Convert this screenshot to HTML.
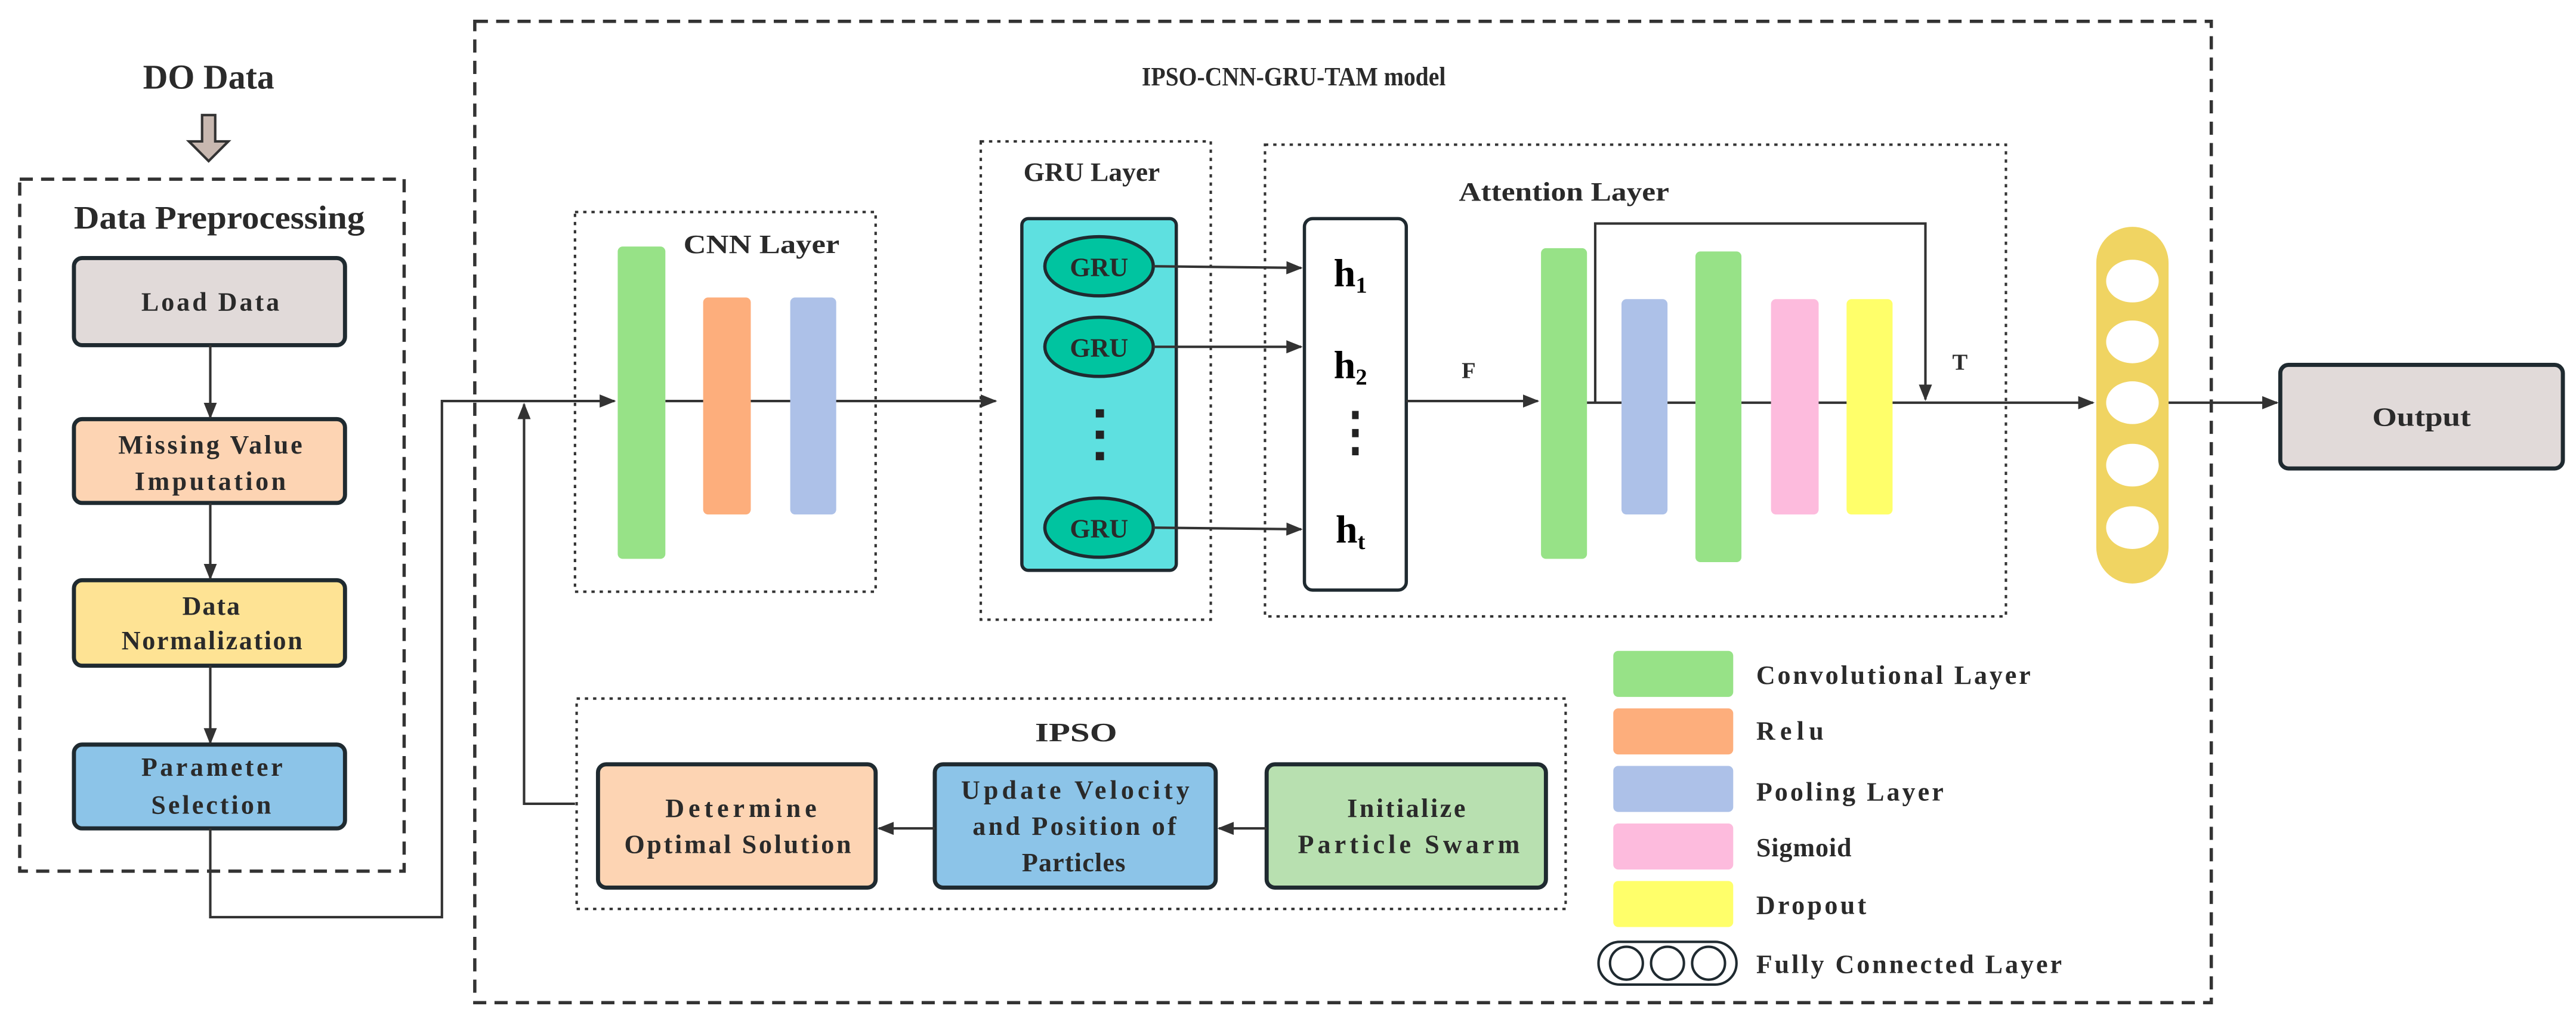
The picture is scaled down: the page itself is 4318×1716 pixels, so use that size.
<!DOCTYPE html>
<html><head><meta charset="utf-8"><style>
html,body{margin:0;padding:0;background:#fff;}
svg{display:block;}
text{font-family:"Liberation Serif",serif;font-weight:bold;fill:#2a2a2a;}
</style></head><body>
<svg width="4318" height="1716" viewBox="0 0 1568 623" preserveAspectRatio="none" xmlns="http://www.w3.org/2000/svg">
<defs>
<marker id="ar" markerWidth="10" markerHeight="8" refX="9" refY="4" orient="auto" markerUnits="userSpaceOnUse">
<path d="M0,0 L10,4 L0,8 Z" fill="#333"/>
</marker>
</defs>
<text x="87" y="54" font-size="21" textLength="80" lengthAdjust="spacingAndGlyphs">DO Data</text>
<path d="M123,70 L131,70 L131,86 L139,86 L127,98 L115,86 L123,86 Z" fill="#c8b8b0" stroke="#333" stroke-width="1.5"/>
<rect x="12" y="109" width="234" height="421" fill="none" stroke="#333" stroke-width="2" stroke-dasharray="8,5"/>
<text x="45" y="139" font-size="20" textLength="177" lengthAdjust="spacingAndGlyphs">Data Preprocessing</text>
<g stroke="#1f2a30" stroke-width="2.5">
<rect x="45" y="157" width="165" height="53" rx="5" fill="#e1dad9"/>
<rect x="45" y="255" width="165" height="51" rx="5" fill="#fdd4b3"/>
<rect x="45" y="353" width="165" height="52" rx="5" fill="#fee394"/>
<rect x="45" y="453" width="165" height="51" rx="5" fill="#8cc4e8"/>
</g>
<g font-size="16" lengthAdjust="spacingAndGlyphs">
<text x="86" y="189" textLength="84">Load Data</text>
<text x="72" y="276" textLength="112">Missing Value</text>
<text x="82" y="298" textLength="92">Imputation</text>
<text x="111" y="374" textLength="35">Data</text>
<text x="74" y="395" textLength="110">Normalization</text>
<text x="86" y="472" textLength="86">Parameter</text>
<text x="92" y="495" textLength="73">Selection</text>
</g>
<g stroke="#333" stroke-width="1.5" fill="none">
<line x1="128" y1="210" x2="128" y2="254" marker-end="url(#ar)"/>
<line x1="128" y1="306" x2="128" y2="352" marker-end="url(#ar)"/>
<line x1="128" y1="405" x2="128" y2="452" marker-end="url(#ar)"/>
<polyline points="128,504 128,558 269,558 269,244 374,244" marker-end="url(#ar)"/>
<polyline points="350,489 319,489 319,246" marker-end="url(#ar)"/>
<line x1="405" y1="244" x2="606" y2="244" marker-end="url(#ar)"/>
</g>
<rect x="289" y="13" width="1057" height="597" fill="none" stroke="#333" stroke-width="2" stroke-dasharray="8,5"/>
<text x="695" y="52" font-size="16" textLength="185" lengthAdjust="spacingAndGlyphs">IPSO-CNN-GRU-TAM model</text>
<rect x="350" y="129" width="183" height="231" fill="none" stroke="#333" stroke-width="1.5" stroke-dasharray="2,3"/>
<text x="416" y="154" font-size="16" textLength="95" lengthAdjust="spacingAndGlyphs">CNN Layer</text>
<rect x="376" y="150" width="29" height="190" rx="3" fill="#97e287"/>
<rect x="428" y="181" width="29" height="132" rx="3" fill="#fdae7c"/>
<rect x="481" y="181" width="28" height="132" rx="3" fill="#adc1e8"/>
<rect x="597" y="86" width="140" height="291" fill="none" stroke="#333" stroke-width="1.5" stroke-dasharray="2,3"/>
<text x="623" y="110" font-size="16" textLength="83" lengthAdjust="spacingAndGlyphs">GRU Layer</text>
<rect x="622" y="133" width="94" height="214" rx="4" fill="#5ee0e0" stroke="#1f2a30" stroke-width="2"/>
<g fill="#00c4a0" stroke="#1f2a30" stroke-width="2">
<ellipse cx="669" cy="162" rx="33" ry="18"/>
<ellipse cx="669" cy="211" rx="33" ry="18"/>
<ellipse cx="669" cy="321" rx="33" ry="18"/>
</g>
<g font-size="16" text-anchor="middle"><text x="669" y="168">GRU</text><text x="669" y="217">GRU</text><text x="669" y="327">GRU</text></g>
<g fill="#222"><rect x="667" y="249" width="5" height="5"/><rect x="667" y="262" width="5" height="5"/><rect x="667" y="275" width="5" height="5"/></g>
<g stroke="#333" stroke-width="1.5">
<line x1="702" y1="162" x2="792" y2="163" marker-end="url(#ar)"/>
<line x1="702" y1="211" x2="792" y2="211" marker-end="url(#ar)"/>
<line x1="702" y1="321" x2="792" y2="322" marker-end="url(#ar)"/>
</g>
<rect x="770" y="88" width="451" height="287" fill="none" stroke="#333" stroke-width="1.5" stroke-dasharray="2,3"/>
<text x="888" y="122" font-size="16" textLength="128" lengthAdjust="spacingAndGlyphs">Attention Layer</text>
<rect x="794" y="133" width="62" height="226" rx="5" fill="#fff" stroke="#1f2a30" stroke-width="2"/>
<g font-size="24" text-anchor="middle">
<text x="822" y="174" style="fill:#000">h<tspan font-size="14" dy="4">1</tspan></text>
<text x="822" y="230" style="fill:#000">h<tspan font-size="14" dy="4">2</tspan></text>
<text x="822" y="330" style="fill:#000">h<tspan font-size="14" dy="4">t</tspan></text>
</g>
<g fill="#222"><rect x="823" y="250" width="4" height="5"/><rect x="823" y="261" width="4" height="5"/><rect x="823" y="272" width="4" height="5"/></g>
<text x="894" y="230" font-size="14" text-anchor="middle">F</text>
<rect x="938" y="151" width="28" height="189" rx="3" fill="#97e287"/>
<rect x="987" y="182" width="28" height="131" rx="3" fill="#adc1e8"/>
<rect x="1032" y="153" width="28" height="189" rx="3" fill="#97e287"/>
<rect x="1078" y="182" width="29" height="131" rx="3" fill="#fdbbdd"/>
<rect x="1124" y="182" width="28" height="131" rx="3" fill="#ffff6a"/>
<g stroke="#333" stroke-width="1.5" fill="none">
<line x1="856" y1="244" x2="936" y2="244" marker-end="url(#ar)"/>
<line x1="966" y1="245" x2="987" y2="245"/>
<line x1="1015" y1="245" x2="1032" y2="245"/>
<line x1="1060" y1="245" x2="1078" y2="245"/>
<line x1="1107" y1="245" x2="1124" y2="245"/>
<polyline points="971,245 971,136 1172,136 1172,243" marker-end="url(#ar)"/>
<line x1="1152" y1="245" x2="1274" y2="245" marker-end="url(#ar)"/>
<line x1="1320" y1="245" x2="1386" y2="245" marker-end="url(#ar)"/>
</g>
<text x="1193" y="225" font-size="14" text-anchor="middle">T</text>
<rect x="1276" y="138" width="44" height="217" rx="22" fill="#f0d462"/>
<g fill="#fff"><ellipse cx="1298" cy="171" rx="16" ry="13"/><ellipse cx="1298" cy="208" rx="16" ry="13"/><ellipse cx="1298" cy="245" rx="16" ry="13"/><ellipse cx="1298" cy="283" rx="16" ry="13"/><ellipse cx="1298" cy="321" rx="16" ry="13"/></g>
<rect x="1388" y="222" width="172" height="63" rx="5" fill="#e1dad9" stroke="#1f2a30" stroke-width="2.5"/>
<text x="1444" y="259" font-size="16" textLength="60" lengthAdjust="spacingAndGlyphs">Output</text>
<rect x="351" y="425" width="602" height="128" fill="none" stroke="#333" stroke-width="1.5" stroke-dasharray="2,3"/>
<text x="630" y="451" font-size="16" textLength="50" lengthAdjust="spacingAndGlyphs">IPSO</text>
<g stroke="#1f2a30" stroke-width="2.5">
<rect x="364" y="465" width="169" height="75" rx="5" fill="#fdd4b3"/>
<rect x="569" y="465" width="171" height="75" rx="5" fill="#8cc4e8"/>
<rect x="771" y="465" width="170" height="75" rx="5" fill="#b8e0b0"/>
</g>
<g font-size="16" lengthAdjust="spacingAndGlyphs">
<text x="405" y="497" textLength="92">Determine</text><text x="380" y="519" textLength="138">Optimal Solution</text>
<text x="585" y="486" textLength="139">Update Velocity</text><text x="592" y="508" textLength="124">and Position of</text><text x="622" y="530" textLength="63">Particles</text>
<text x="820" y="497" textLength="72">Initialize</text><text x="790" y="519" textLength="135">Particle Swarm</text>
</g>
<g stroke="#333" stroke-width="1.5">
<line x1="569" y1="504" x2="535" y2="504" marker-end="url(#ar)"/>
<line x1="771" y1="504" x2="742" y2="504" marker-end="url(#ar)"/>
</g>
<rect x="982" y="396" width="73" height="28" rx="3" fill="#97e287"/>
<rect x="982" y="431" width="73" height="28" rx="3" fill="#fdae7c"/>
<rect x="982" y="466" width="73" height="28" rx="3" fill="#adc1e8"/>
<rect x="982" y="501" width="73" height="28" rx="3" fill="#fdbbdd"/>
<rect x="982" y="536" width="73" height="28" rx="3" fill="#ffff6a"/>
<rect x="973" y="573" width="84" height="26" rx="13" fill="#fff" stroke="#1f2a30" stroke-width="1.5"/>
<g fill="#fff" stroke="#1f2a30" stroke-width="1.5"><circle cx="990" cy="586" r="10"/><circle cx="1015" cy="586" r="10"/><circle cx="1040" cy="586" r="10"/></g>
<g font-size="16" lengthAdjust="spacingAndGlyphs">
<text x="1069" y="416" textLength="167">Convolutional Layer</text>
<text x="1069" y="450" textLength="41">Relu</text>
<text x="1069" y="487" textLength="114">Pooling Layer</text>
<text x="1069" y="521" textLength="58">Sigmoid</text>
<text x="1069" y="556" textLength="67">Dropout</text>
<text x="1069" y="592" textLength="186">Fully Connected Layer</text>
</g>
</svg>
</body></html>
